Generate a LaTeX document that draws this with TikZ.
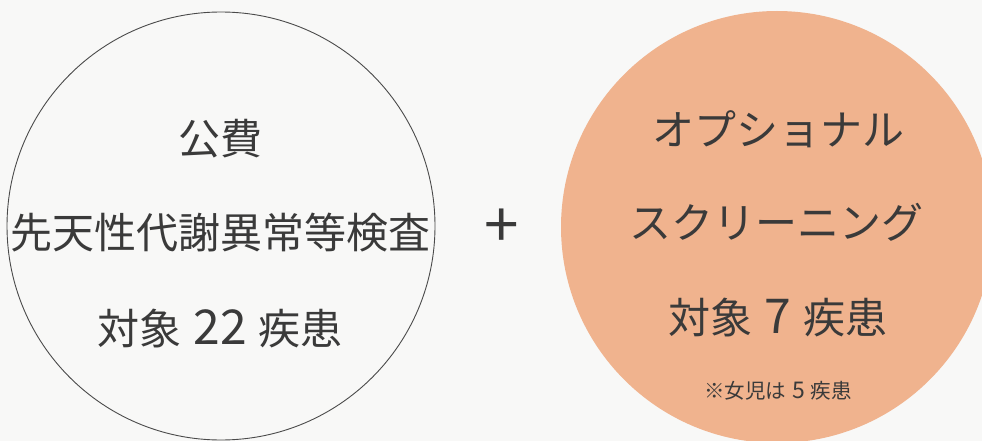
\documentclass[tikz,border=0pt]{standalone}
\usepackage{fontspec}
\newfontfamily\jp{Noto Sans CJK JP}
\definecolor{paper}{HTML}{F8F8F7}
\definecolor{peach}{HTML}{F0B38E}
\definecolor{ink}{HTML}{3A3A3A}
\definecolor{rim}{HTML}{4A4A4A}
\newcommand{\dg}[1]{{\fontsize{48}{48}\selectfont #1}}
\newcommand{\sdg}[1]{{\fontsize{23}{23}\selectfont #1}}
\tikzset{
  big/.style={font=\jp\fontsize{42}{42}\selectfont, text=ink, inner sep=0pt, anchor=center},
  small/.style={font=\jp\fontsize{20.5}{20.5}\selectfont, text=ink, inner sep=0pt, anchor=center},
  ring/.style={circle, inner sep=0pt, minimum size=428pt},
}
\begin{document}
\begin{tikzpicture}[x=1pt,y=-1pt]
\useasboundingbox (0,0) rectangle (982,441);
\clip (0,0) rectangle (982,441);
\fill[paper] (0,0) rectangle (982,441);
\node[ring, draw=rim, line width=0.9pt] (lc) at (221,226) {};
\node[ring, fill=peach, minimum size=432pt] (rc) at (777,227) {};
\node[big] (l1) at (220,139) {公費};
\node[big] (l2) at (220,233) {先天性代謝異常等検査};
\node[big] (l3) at (220,329) {対象\hspace{12pt}\dg{22}\hspace{12pt}疾患};
\node[font=\jp\fontsize{62}{62}\selectfont, text=ink, inner sep=0pt] (plus) at (502,228) {+};
\node[big] (r1) at (778,129) {オプショナル};
\node[big] (r2) at (776,222) {スクリーニング};
\node[big] (r3) at (778,318) {対象\hspace{12pt}\dg{7}\hspace{12pt}疾患};
\node[small] (r4) at (778,391) {※女児は\hspace{6pt}\sdg{5}\hspace{6pt}疾患};
\end{tikzpicture}
\end{document}
